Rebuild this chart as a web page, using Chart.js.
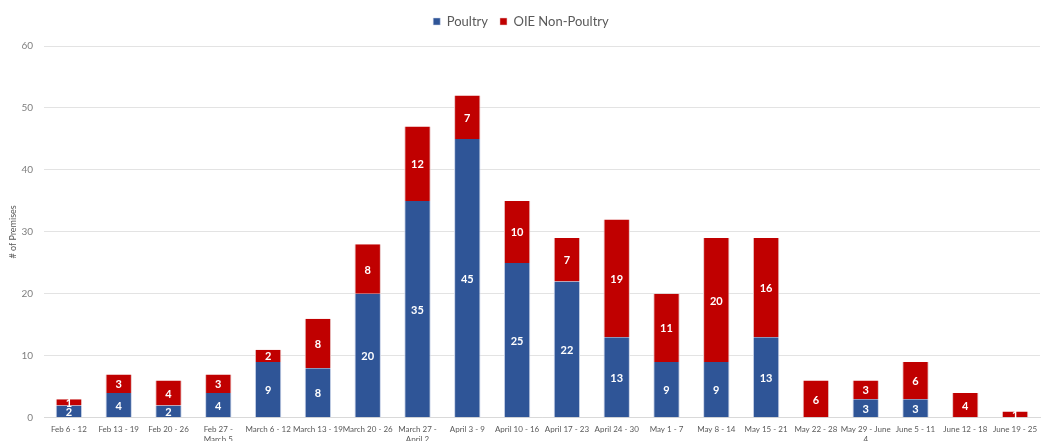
<!DOCTYPE html>
<html>
<head>
<meta charset="utf-8">
<script src="https://cdn.jsdelivr.net/npm/chart.js@4/dist/chart.umd.min.js"></script>
<style>
  html, body { margin: 0; padding: 0; background: #fff; overflow: hidden; }
  #wrap { width: 1045px; height: 451px; position: relative; }
</style>
</head>
<body>
<div id="wrap"><canvas id="premChart"></canvas></div>
<script>
const weeks = [
  'Feb 6 - 12', 'Feb 13 - 19', 'Feb 20 - 26', ['Feb 27 -', 'March 5'], 'March 6 - 12',
  'March 13 - 19', 'March 20 - 26', ['March 27 -', 'April 2'], 'April 3 - 9', 'April 10 - 16',
  'April 17 - 23', 'April 24 - 30', 'May 1 - 7', 'May 8 - 14', 'May 15 - 21',
  'May 22 - 28', ['May 29 - June', '4'], 'June 5 - 11', 'June 12 - 18', 'June 19 - 25'
];
const poultry = [2, 4, 2, 4, 9, 8, 20, 35, 45, 25, 22, 13, 9, 9, 13, 0, 3, 3, 0, 0];
const nonPoultry = [1, 3, 4, 3, 2, 8, 8, 12, 7, 10, 7, 19, 11, 20, 16, 6, 3, 6, 4, 1];
const yTicks = [0, 10, 20, 30, 40, 50, 60];

const FONT = 'Lato, "Open Sans", sans-serif';

// white value labels in the middle of each segment
const segLabels = {
  id: 'segLabels',
  afterDatasetsDraw(chart) {
    const ctx = chart.ctx;
    ctx.save();
    ctx.fillStyle = '#ffffff';
    ctx.font = 'bold 11px ' + FONT;
    ctx.textAlign = 'center';
    ctx.textBaseline = 'middle';
    chart.data.datasets.forEach((ds, i) => {
      chart.getDatasetMeta(i).data.forEach((bar, j) => {
        const v = ds.data[j];
        if (!v) return;
        const yMid = (bar.y + bar.base) / 2;
        ctx.fillText(String(v), bar.x, yMid + 1);
      });
    });
    ctx.restore();
  }
};

// a bit more room under the legend
const legendGap = {
  id: 'legendGap',
  beforeInit(chart) {
    const fit = chart.legend.fit;
    chart.legend.fit = function () {
      fit.bind(chart.legend)();
      this.height += 8;
    };
  }
};

const ctx = document.getElementById('premChart').getContext('2d');

new Chart(ctx, {
  type: 'bar',
  data: {
    labels: weeks,
    datasets: [
      {
        label: 'Poultry',
        data: poultry,
        backgroundColor: '#2F5597',
        borderColor: '#c9d3e8',
        borderWidth: { left: 1, right: 1 },
        borderSkipped: false,
        categoryPercentage: 1,
        barPercentage: 0.53
      },
      {
        label: 'OIE Non-Poultry',
        data: nonPoultry,
        backgroundColor: '#C00000',
        borderColor: '#e8c4c4',
        borderWidth: { left: 1, right: 1 },
        borderSkipped: false,
        categoryPercentage: 1,
        barPercentage: 0.53
      }
    ]
  },
  options: {
    responsive: true,
    maintainAspectRatio: false,
    animation: false,
    layout: { padding: { top: 3, right: 5, left: 2, bottom: 0 } },
    plugins: {
      legend: {
        position: 'top',
        labels: {
          boxWidth: 7,
          boxHeight: 7,
          padding: 12,
          color: '#595959',
          font: { family: FONT, size: 13 }
        }
      },
      tooltip: { enabled: false }
    },
    scales: {
      x: {
        stacked: true,
        grid: { display: false, drawTicks: false },
        border: { color: '#d9d9d9' },
        ticks: {
          color: '#595959',
          font: { family: FONT, size: 8 },
          maxRotation: 0,
          autoSkip: false,
          padding: 7
        }
      },
      y: {
        stacked: true,
        min: 0,
        max: 60,
        afterBuildTicks(axis) {
          axis.ticks = yTicks.map(v => ({ value: v }));
        },
        afterFit(axis) {
          axis.width = 42;
        },
        grid: { color: '#e3e3e3', drawTicks: false },
        border: { display: false },
        ticks: {
          color: '#7f7f7f',
          font: { family: FONT, size: 10 },
          padding: 11
        },
        title: {
          display: true,
          text: '# of Premises',
          color: '#595959',
          font: { family: FONT, size: 9 },
          padding: { top: 6, bottom: 0 }
        }
      }
    }
  },
  plugins: [segLabels, legendGap]
});
</script>
</body>
</html>
